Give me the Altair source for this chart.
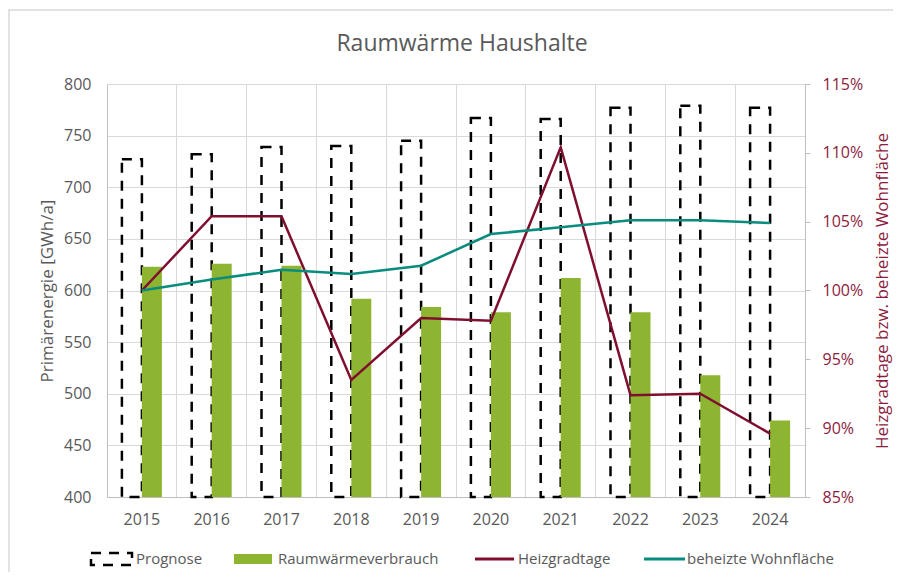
import altair as alt
import pandas as pd

# ---- data ----
years = ["2015", "2016", "2017", "2018", "2019", "2020", "2021", "2022", "2023", "2024"]
prognose = [727, 732, 739, 740, 745, 767, 766, 777, 779, 777]
raumwaerme = [623, 626, 624, 592, 584, 579, 612, 579, 518, 474]
heizgradtage = [1.000, 1.054, 1.054, 0.935, 0.980, 0.978, 1.104, 0.924, 0.925, 0.896]
wohnflaeche = [1.000, 1.008, 1.015, 1.012, 1.018, 1.041, 1.046, 1.051, 1.051, 1.049]
series_names = ["Prognose", "Raumwärmeverbrauch", "Heizgradtage", "beheizte Wohnfläche"]
left_ticks = [400, 450, 500, 550, 600, 650, 700, 750, 800]
right_ticks = [0.85, 0.90, 0.95, 1.00, 1.05, 1.10, 1.15]
chart_title = "Raumwärme Haushalte"

FONT = "Open Sans"
GREY = "#595959"
GRID = "#D9D9D9"
DOMAIN = "#BFBFBF"
GREEN = "#8DB531"
RED = "#800F2F"
RED_TXT = "#8C1C3E"
TEAL = "#078C7E"
W, H = 698, 413

bars_df = pd.DataFrame({"Jahr": years, "Prognose": prognose, "Raum": raumwaerme})
lines_df = pd.DataFrame({
    "Jahr": years * 2,
    "Serie": [series_names[2]] * len(years) + [series_names[3]] * len(years),
    "Wert": heizgradtage + wohnflaeche,
})
one = pd.DataFrame({"a": [0]})

x_axis = alt.Axis(title=None, bandPosition=0, labelOffset=0, grid=True, gridColor=GRID,
                  ticks=False, domainColor=DOMAIN, labelColor=GREY, labelFontSize=16,
                  labelPadding=14, labelAngle=0)
x_scale = alt.Scale(paddingInner=0, paddingOuter=0)


def X():
    return alt.X("Jahr:O", axis=x_axis, scale=x_scale)


y_axis = alt.Axis(title="Primärenergie [GWh/a]", values=left_ticks, grid=True, gridColor=GRID,
                  ticks=False, domainColor=DOMAIN, labelColor=GREY, labelFontSize=16,
                  labelPadding=16, titleColor=GREY, titleFontSize=17, titleFontWeight="normal",
                  titleX=-60, titleY=H / 2, titleAngle=270, titleBaseline="middle",
                  titleAlign="center")
y_scale = alt.Scale(domain=[400, 800], zero=False, nice=False)

y2_axis = alt.Axis(orient="right", format=".0%", values=right_ticks, grid=False, ticks=True,
                   tickSize=5, tickColor=DOMAIN, domainColor=DOMAIN, labelColor=RED_TXT,
                   labelFontSize=16, labelPadding=12,
                   title="Heizgradtage bzw. beheizte Wohnfläche", titleColor=RED_TXT,
                   titleFontSize=17, titleFontWeight="normal", titleAngle=270,
                   titleX=77, titleY=H / 2, titleBaseline="middle", titleAlign="center")

border = alt.Chart(one).mark_rect(fill="transparent", stroke=GRID, strokeWidth=1.5).encode(
    x=alt.value(-98), x2=alt.value(900), y=alt.value(-74), y2=alt.value(600))

title_mark = alt.Chart(one).mark_text(align="center", baseline="middle", fontSize=23,
                                      color=GREY, font=FONT).encode(
    x=alt.value(355), y=alt.value(-40), text=alt.value(chart_title))

prog = alt.Chart(bars_df).mark_bar(width=20, xOffset=-10, fill="transparent", stroke="black",
                                   strokeWidth=2.5, strokeDash=[10, 8]).encode(
    x=X(), y=alt.Y("Prognose:Q", scale=y_scale, axis=y_axis), y2=alt.datum(400))

green = alt.Chart(bars_df).mark_bar(width=20, xOffset=10, color=GREEN).encode(
    x=X(), y=alt.Y("Raum:Q", scale=y_scale, axis=y_axis), y2=alt.datum(400))

lines = alt.Chart(lines_df).mark_line(strokeWidth=2.5).encode(
    x=X(),
    y=alt.Y("Wert:Q", scale=alt.Scale(domain=[0.85, 1.15], zero=False, nice=False), axis=y2_axis),
    color=alt.Color("Serie:N", scale=alt.Scale(domain=series_names[2:], range=[RED, TEAL]),
                    legend=None),
)

# ---- manual legend ----
LY = 475


def legend_text(name, x):
    return alt.Chart(one).mark_text(align="left", baseline="middle", fontSize=15, color=GREY,
                                    font=FONT).encode(
        x=alt.value(x), y=alt.value(LY), text=alt.value(name))


leg_prog = alt.Chart(one).mark_rect(fill="transparent", stroke="black", strokeWidth=2.5,
                                    strokeDash=[10, 8]).encode(
    x=alt.value(-16), x2=alt.value(25), y=alt.value(LY - 6), y2=alt.value(LY + 6))
leg_green = alt.Chart(one).mark_rect(color=GREEN).encode(
    x=alt.value(127), x2=alt.value(165), y=alt.value(LY - 5), y2=alt.value(LY + 5))
leg_red = alt.Chart(one).mark_rule(color=RED, strokeWidth=3).encode(
    x=alt.value(368), x2=alt.value(407), y=alt.value(LY))
leg_teal = alt.Chart(one).mark_rule(color=TEAL, strokeWidth=3).encode(
    x=alt.value(537), x2=alt.value(578), y=alt.value(LY))

left = alt.layer(border, title_mark, prog, green, leg_prog, legend_text(series_names[0], 29),
                 leg_green, legend_text(series_names[1], 171),
                 leg_red, legend_text(series_names[2], 411),
                 leg_teal, legend_text(series_names[3], 580))

chart = alt.layer(left, lines).resolve_scale(y="independent").properties(
    width=W, height=H,
    autosize=alt.AutoSizeParams(type="none"),
    padding={"left": 99, "top": 76, "right": 88, "bottom": 75},
).configure(font=FONT).configure_view(stroke=None)

chart.save("out.html", embed_options={"renderer": "svg", "actions": False})
